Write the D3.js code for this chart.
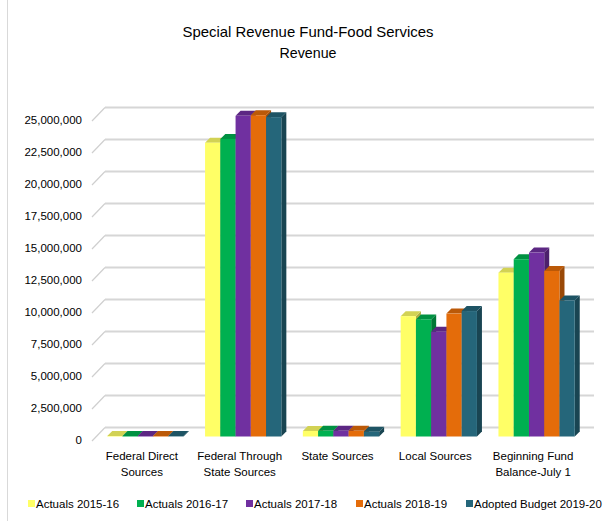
<!DOCTYPE html>
<html>
<head>
<meta charset="utf-8">
<script src="https://cdn.jsdelivr.net/npm/d3@7"></script>
<style>
  html, body { margin: 0; padding: 0; background: #fff; }
  svg { display: block; font-family: "Liberation Sans", Arial, sans-serif; }
</style>
</head>
<body>
<svg id="chart" width="604" height="521"></svg>
<script>
// Revenue categories and their wrapped axis labels
const categories = ["Federal Direct Sources", "Federal Through State Sources", "State Sources", "Local Sources", "Beginning Fund Balance-July 1"];
const categoryLines = [["Federal Direct", "Sources"], ["Federal Through", "State Sources"], ["State Sources"], ["Local Sources"], ["Beginning Fund", "Balance-July 1"]];

// Series names and values (dollars), one entry per category
const seriesNames = ["Actuals 2015-16", "Actuals 2016-17", "Actuals 2017-18", "Actuals 2018-19", "Adopted Budget 2019-20"];
const actuals2015 = [40000, 22950000, 430000, 9400000, 12800000];
const actuals2016 = [40000, 23250000, 440000, 9150000, 13850000];
const actuals2017 = [45000, 25050000, 450000, 8180000, 14370000];
const actuals2018 = [42000, 25100000, 440000, 9600000, 12930000];
const adopted2019 = [35000, 24950000, 380000, 9800000, 10630000];
const seriesValues = [actuals2015, actuals2016, actuals2017, actuals2018, adopted2019];
const seriesColors = ["#ffff66", "#00b050", "#7030a0", "#e46c0a", "#25667a"];

// Value axis ticks
const tickValues = [0, 2500000, 5000000, 7500000, 10000000, 12500000, 15000000, 17500000, 20000000, 22500000, 25000000];

const svg = d3.select("#chart");

// Chart frame
svg.append("rect")
  .attr("x", 7.5).attr("y", -2).attr("width", 605).attr("height", 530)
  .attr("fill", "none").attr("stroke", "#d9d9d9");

// Title
const title = svg.append("g").attr("fill", "#000").attr("text-anchor", "middle");
title.append("text").attr("x", 308).attr("y", 37).attr("font-size", 15)
  .attr("textLength", 251).attr("lengthAdjust", "spacingAndGlyphs")
  .text("Special Revenue  Fund-Food  Services");
title.append("text").attr("x", 308).attr("y", 58).attr("font-size", 15)
  .attr("textLength", 57).attr("lengthAdjust", "spacingAndGlyphs")
  .text("Revenue");

// 3D geometry: floor front edge, wall depth offset, bar depth
const floorLeft = 92, floorRight = 581, floorY = 441;
const wallDx = 13, wallDy = -13.5;
const barOffset = 4.5;   // bar front plane distance behind floor front
const barDepth = 5;

const h = d3.scaleLinear().domain([0, 25000000]).range([0, 320]);

const x = d3.scaleBand().domain(categories).range([floorLeft, floorRight])
  .paddingInner(0.22).paddingOuter(0.11);
const xs = d3.scaleBand().domain(seriesNames).range([0, x.bandwidth()]);

// Back wall gridlines and left-side diagonals
const grid = svg.append("g");
tickValues.forEach(v => {
  const fy = floorY - h(v);
  const by = fy + wallDy;
  grid.append("line")
    .attr("x1", floorLeft + wallDx).attr("x2", floorRight + wallDx)
    .attr("y1", by).attr("y2", by)
    .attr("stroke", "#d6d6d6").attr("stroke-width", 2.2);
  grid.append("line")
    .attr("x1", floorLeft).attr("y1", fy)
    .attr("x2", floorLeft + wallDx).attr("y2", by)
    .attr("stroke", "#cfcfcf").attr("stroke-width", 1.2);
});

// Value axis labels
const fmt = d3.format(",");
svg.append("g").attr("font-size", 11.5).attr("fill", "#000").attr("text-anchor", "end")
  .selectAll("text").data(tickValues).join("text")
  .attr("x", 82).attr("y", d => floorY - h(d) - 1.5).attr("dy", "0.35em")
  .text(d => fmt(d));

// Bars: front face, top face, right side face
const barsG = svg.append("g");
const barData = [];
categories.forEach((c, i) => {
  seriesNames.forEach((s, j) => {
    barData.push({ cat: c, series: s, value: seriesValues[j][i], color: seriesColors[j] });
  });
});

const baseY = floorY - barOffset;
barData.forEach(d => {
  const x0 = x(d.cat) + xs(d.series) + barOffset;
  const w = xs.bandwidth();
  const yTop = baseY - h(d.value);
  const col = d3.color(d.color);
  const g = barsG.append("g");
  // right side face
  g.append("path")
    .attr("d", `M${x0 + w},${yTop} L${x0 + w + barDepth},${yTop - barDepth} L${x0 + w + barDepth},${baseY - barDepth} L${x0 + w},${baseY} Z`)
    .attr("fill", col.darker(1.1));
  // top face
  g.append("path")
    .attr("d", `M${x0},${yTop} L${x0 + barDepth},${yTop - barDepth} L${x0 + w + barDepth},${yTop - barDepth} L${x0 + w},${yTop} Z`)
    .attr("fill", col.darker(0.55));
  // front face
  g.append("rect")
    .attr("x", x0).attr("y", yTop).attr("width", w).attr("height", baseY - yTop)
    .attr("fill", d.color);
});

// Category labels
const catG = svg.append("g").attr("font-size", 11.5).attr("fill", "#000").attr("text-anchor", "middle");
categories.forEach((c, i) => {
  const t = catG.append("text").attr("x", x(c) + x.bandwidth() / 2 + 1).attr("y", 460);
  categoryLines[i].forEach((line, k) => {
    t.append("tspan").attr("x", x(c) + x.bandwidth() / 2 + 1).attr("dy", k === 0 ? 0 : 16).text(line);
  });
});

// Legend
const legendX = [28, 137, 246, 356, 466];
const legend = svg.append("g").attr("font-size", 11.5).attr("fill", "#000");
seriesNames.forEach((s, j) => {
  legend.append("rect").attr("x", legendX[j]).attr("y", 500).attr("width", 7).attr("height", 7)
    .attr("fill", seriesColors[j]);
  legend.append("text").attr("x", legendX[j] + 8).attr("y", 508).text(s);
});
</script>
</body>
</html>
